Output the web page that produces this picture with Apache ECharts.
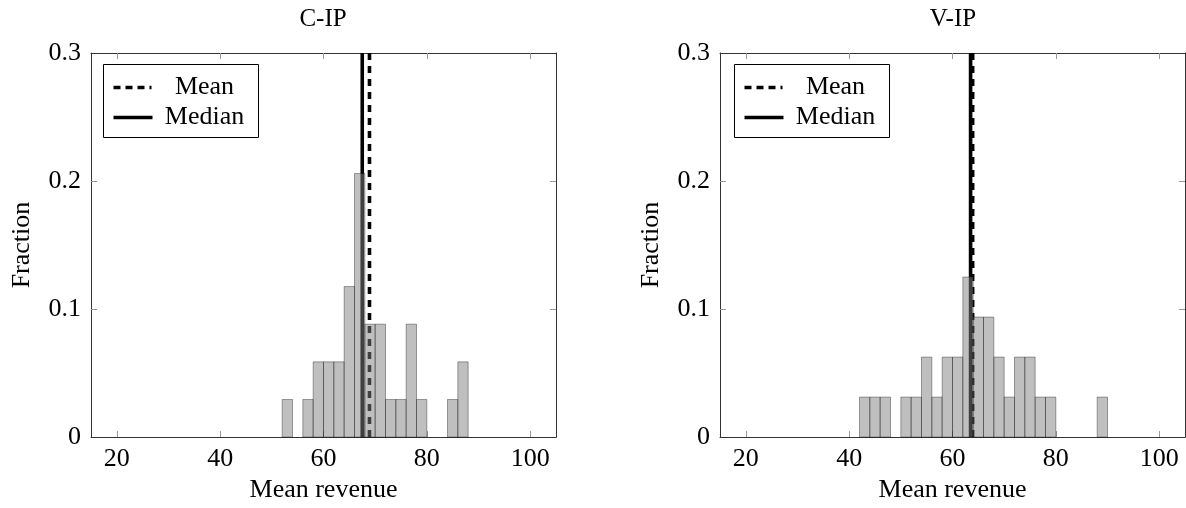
<!DOCTYPE html>
<html>
<head>
<meta charset="utf-8">
<script src="https://cdn.jsdelivr.net/npm/echarts@6/dist/echarts.min.js"></script>
<style>
  html, body { margin: 0; padding: 0; background: #fff; }
  #chart { width: 1186px; height: 508px; }
</style>
</head>
<body>
<div id="chart"></div>
<script>
// ---------- data ----------
var BIN_WIDTH = 2;
var xTicks = [20, 40, 60, 80, 100];
var yTicks = [0.1, 0.2];

var cipTitle = 'C-IP';
var cipBinStart = [52, 56, 58, 60, 62, 64, 66, 68, 70, 72, 74, 76, 78, 84, 86];
var cipFraction = [0.0294, 0.0294, 0.0588, 0.0588, 0.0588, 0.1176, 0.2059, 0.0882, 0.0882, 0.0294, 0.0294, 0.0882, 0.0294, 0.0294, 0.0588];
var cipMean = 68.9;
var cipMedian = 67.5;

var vipTitle = 'V-IP';
var vipBinStart = [42, 44, 46, 50, 52, 54, 56, 58, 60, 62, 64, 66, 68, 70, 72, 74, 76, 78, 88];
var vipFraction = [0.03125, 0.03125, 0.03125, 0.03125, 0.03125, 0.0625, 0.03125, 0.0625, 0.0625, 0.125, 0.09375, 0.09375, 0.0625, 0.03125, 0.0625, 0.0625, 0.03125, 0.03125, 0.03125];
var vipMean = 63.9;
var vipMedian = 63.5;

var legendLabels = ['Mean', 'Median'];
var xName = 'Mean revenue';
var yName = 'Fraction';
var X_MIN = 15, X_MAX = 105, Y_MIN = 0, Y_MAX = 0.3;

// ---------- styling ----------
var FONT = 'Liberation Serif';
var FS = 26;
var frameColor = '#333';
var tickColor = '#999';

var grids = [
  { left: 91, top: 53, width: 465, height: 386 },
  { left: 720, top: 53, width: 465, height: 386 }
];

function makeXAxes(gi) {
  var base = {
    type: 'value', gridIndex: gi, min: X_MIN, max: X_MAX,
    axisLine: { show: true, onZero: false, lineStyle: { color: frameColor, width: 1 } },
    axisTick: { show: true, inside: true, length: 6, customValues: xTicks, lineStyle: { color: tickColor, width: 1 } },
    splitLine: { show: false }
  };
  var bottom = Object.assign({}, base, {
    position: 'bottom',
    axisLabel: { show: true, customValues: xTicks, fontFamily: FONT, fontSize: FS, color: '#000', margin: 9 },
    name: xName, nameLocation: 'middle', nameGap: 39,
    nameTextStyle: { fontFamily: FONT, fontSize: FS, color: '#000' }
  });
  var top = Object.assign({}, base, { position: 'top', axisLabel: { show: false } });
  return [bottom, top];
}
function makeYAxes(gi) {
  var base = {
    type: 'value', gridIndex: gi, min: Y_MIN, max: Y_MAX, interval: 0.1,
    axisLine: { show: true, onZero: false, lineStyle: { color: frameColor, width: 1 } },
    axisTick: { show: true, inside: true, length: 6, customValues: yTicks, lineStyle: { color: tickColor, width: 1 } },
    splitLine: { show: false }
  };
  var left = Object.assign({}, base, {
    position: 'left',
    axisLabel: { show: true, fontFamily: FONT, fontSize: FS, color: '#000', margin: 10 },
    name: yName, nameLocation: 'middle', nameGap: 56,
    nameTextStyle: { fontFamily: FONT, fontSize: FS, color: '#000' }
  });
  var right = Object.assign({}, base, { position: 'right', axisLabel: { show: false } });
  return [left, right];
}

var xAxes = makeXAxes(0).concat(makeXAxes(1));
var yAxes = makeYAxes(0).concat(makeYAxes(1));

function histSeries(axisIdx, starts, fracs) {
  return {
    type: 'custom', xAxisIndex: axisIdx, yAxisIndex: axisIdx, z: 5,
    data: starts.map(function (s, i) { return [s, fracs[i]]; }),
    renderItem: function (params, api) {
      var x0 = api.value(0), y = api.value(1);
      var p1 = api.coord([x0, y]);
      var p2 = api.coord([x0 + BIN_WIDTH, 0]);
      return {
        type: 'rect',
        shape: { x: p1[0], y: p1[1], width: p2[0] - p1[0], height: p2[1] - p1[1] },
        style: { fill: 'rgba(128,128,128,0.5)', stroke: 'rgba(0,0,0,0.35)', lineWidth: 1 }
      };
    }
  };
}
function vline(axisIdx, x, dashed) {
  return {
    type: 'line', xAxisIndex: axisIdx, yAxisIndex: axisIdx, z: 2,
    symbol: 'none', silent: true, animation: false,
    data: [[x, Y_MIN], [x, Y_MAX]],
    lineStyle: { color: '#000', width: 3.6, type: dashed ? [7, 6] : 'solid' }
  };
}

function legendGraphic(x, y) {
  return {
    type: 'group', left: x, top: y,
    children: [
      { type: 'rect', shape: { x: 0, y: 0, width: 155, height: 73 }, style: { fill: '#fff', stroke: '#000', lineWidth: 1 } },
      { type: 'line', shape: { x1: 10, y1: 23, x2: 48, y2: 23 }, style: { stroke: '#000', lineWidth: 3.5, lineDash: [7, 5] } },
      { type: 'line', shape: { x1: 10, y1: 53, x2: 49, y2: 53 }, style: { stroke: '#000', lineWidth: 3.5 } },
      { type: 'text', style: { x: 101, y: 23, text: legendLabels[0], align: 'center', verticalAlign: 'middle', font: FS + 'px "' + FONT + '"', fill: '#000' } },
      { type: 'text', style: { x: 101, y: 53, text: legendLabels[1], align: 'center', verticalAlign: 'middle', font: FS + 'px "' + FONT + '"', fill: '#000' } }
    ]
  };
}

var chart = echarts.init(document.getElementById('chart'), null, { renderer: 'canvas' });
chart.setOption({
  animation: false,
  backgroundColor: '#fff',
  title: [
    { text: cipTitle, left: 323, top: 7, textAlign: 'center', padding: 0, textStyle: { fontFamily: FONT, fontSize: 25, fontWeight: 'normal', color: '#000' } },
    { text: vipTitle, left: 953, top: 7, textAlign: 'center', padding: 0, textStyle: { fontFamily: FONT, fontSize: 25, fontWeight: 'normal', color: '#000' } }
  ],
  grid: grids,
  xAxis: xAxes,
  yAxis: yAxes,
  series: [
    vline(0, cipMean, true), vline(0, cipMedian, false), histSeries(0, cipBinStart, cipFraction),
    vline(2, vipMean, true), vline(2, vipMedian, false), histSeries(2, vipBinStart, vipFraction)
  ],
  graphic: [legendGraphic(103, 64), legendGraphic(734, 64)]
});
</script>
</body>
</html>
